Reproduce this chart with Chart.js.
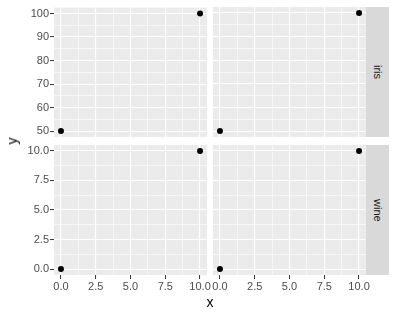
<!DOCTYPE html>
<html>
<head>
<meta charset="utf-8">
<script src="https://cdn.jsdelivr.net/npm/chart.js@4.4.1/dist/chart.umd.min.js"></script>
<style>
  body { margin: 0; background: #ffffff; }
  #wrap { position: relative; width: 397px; height: 318px; overflow: hidden; font-family: 'Liberation Sans', Arial, sans-serif; }
  #wrap canvas { position: absolute; left: 0; top: 0; }
  .strip { position: absolute; left: 366px; width: 23px; height: 130px; background: #d9d9d9; color: #1a1a1a; font-size: 11px; display: flex; align-items: center; justify-content: center; }
  .strip span { writing-mode: vertical-rl; }
  .title { position: absolute; color: #000000; font-size: 14px; transform: translate(-50%, -50%); }
</style>
</head>
<body>
<div id="wrap">
  <canvas id="topLeft" width="397" height="318"></canvas>
  <canvas id="topRight" width="397" height="318"></canvas>
  <canvas id="bottomLeft" width="397" height="318"></canvas>
  <canvas id="bottomRight" width="397" height="318"></canvas>
  <div class="strip" style="top:7px"><span>iris</span></div>
  <div class="strip" style="top:145px"><span>wine</span></div>
  <div class="title" style="left:210px; top:302px">x</div>
  <div class="title" style="left:12px; top:141px; transform: translate(-50%, -50%) rotate(-90deg)">y</div>
</div>
<script>
const xValues = [0, 10];
const irisValues = [50, 100];
const wineValues = [0, 10];

const xMajorTicks = [0, 2.5, 5, 7.5, 10];
const xMinorTicks = [1.25, 3.75, 6.25, 8.75];
const xTickLabels = ['0.0', '2.5', '5.0', '7.5', '10.0'];

const irisMajorTicks = [50, 60, 70, 80, 90, 100];
const irisMinorTicks = [55, 65, 75, 85, 95];
const irisTickLabels = ['50', '60', '70', '80', '90', '100'];

const wineMajorTicks = [0, 2.5, 5, 7.5, 10];
const wineMinorTicks = [1.25, 3.75, 6.25, 8.75];
const wineTickLabels = ['0.0', '2.5', '5.0', '7.5', '10.0'];

const FONT = "'Liberation Sans', Arial, sans-serif";

const panelBackground = {
    id: 'panelBackground',
    beforeDraw(chart) {
        const { ctx, chartArea: a } = chart;
        ctx.save();
        ctx.fillStyle = '#ebebeb';
        ctx.fillRect(a.left, a.top, a.width, a.height);
        ctx.restore();
    }
};

function buildScale({ min, max, major, minor, labels, showLabels, size }) {
    const all = [...major, ...minor].sort((a, b) => a - b);
    const isMajor = (ctx) => major.includes(ctx.tick?.value);
    return {
        type: 'linear',
        min,
        max,
        afterBuildTicks(scale) {
            scale.ticks = all.map((value) => ({ value }));
        },
        afterFit(scale) {
            if (scale.isHorizontal()) scale.height = size;
            else scale.width = size;
        },
        border: { display: false },
        grid: {
            color: '#ffffff',
            lineWidth: (ctx) => (isMajor(ctx) ? 1.1 : 0.55),
            drawTicks: showLabels,
            tickLength: 4,
            tickWidth: 1,
            tickColor: (ctx) => (isMajor(ctx) ? '#333333' : 'rgba(0,0,0,0)')
        },
        ticks: {
            display: showLabels,
            autoSkip: false,
            maxRotation: 0,
            padding: 1,
            color: '#4d4d4d',
            font: { family: FONT, size: 11 },
            callback(value) {
                const i = major.indexOf(value);
                return i >= 0 ? labels[i] : '';
            }
        }
    };
}

function renderPanel(id, { yValues, yMin, yMax, yMajor, yMinor, yLabels, showX, showY, padding }) {
    const canvas = document.getElementById(id);
    return new Chart(canvas.getContext('2d'), {
        type: 'scatter',
        data: {
            datasets: [{
                data: xValues.map((x, i) => ({ x, y: yValues[i] })),
                backgroundColor: '#000000',
                borderWidth: 0,
                pointRadius: 3,
                pointHoverRadius: 3
            }]
        },
        options: {
            responsive: false,
            animation: false,
            devicePixelRatio: 1,
            events: [],
            clip: false,
            layout: { padding, autoPadding: false },
            plugins: { legend: { display: false }, tooltip: { enabled: false } },
            scales: {
                x: buildScale({ min: -0.5, max: 10.5, major: xMajorTicks, minor: xMinorTicks, labels: xTickLabels, showLabels: showX, size: showX ? 20 : 0 }),
                y: buildScale({ min: yMin, max: yMax, major: yMajor, minor: yMinor, labels: yLabels, showLabels: showY, size: showY ? 54 : 0 })
            }
        },
        plugins: [panelBackground]
    });
}

const irisRow = { yValues: irisValues, yMin: 47.5, yMax: 102.5, yMajor: irisMajorTicks, yMinor: irisMinorTicks, yLabels: irisTickLabels };
const wineRow = { yValues: wineValues, yMin: -0.5, yMax: 10.5, yMajor: wineMajorTicks, yMinor: wineMinorTicks, yLabels: wineTickLabels };

renderPanel('topLeft', { ...irisRow, showX: false, showY: true, padding: { left: 0, top: 7, right: 190, bottom: 181 } });
renderPanel('topRight', { ...irisRow, showX: false, showY: false, padding: { left: 213, top: 7, right: 31, bottom: 181 } });
renderPanel('bottomLeft', { ...wineRow, showX: true, showY: true, padding: { left: 0, top: 145, right: 190, bottom: 23 } });
renderPanel('bottomRight', { ...wineRow, showX: true, showY: false, padding: { left: 213, top: 145, right: 31, bottom: 23 } });
</script>
</body>
</html>
